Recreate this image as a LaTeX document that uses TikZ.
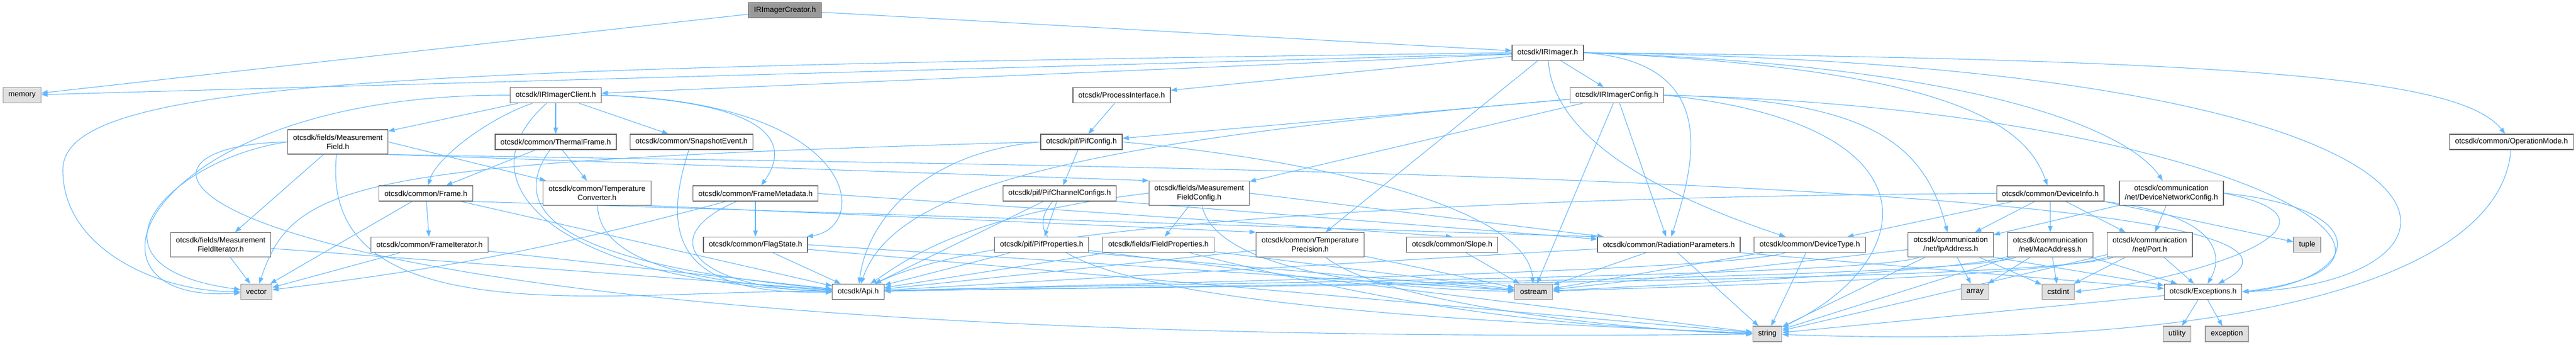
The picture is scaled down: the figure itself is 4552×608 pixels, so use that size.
\documentclass[tikz,border=0pt]{standalone}
\usepackage{fontspec}
\setmainfont{Liberation Sans}
\usepackage{tikz}
\usetikzlibrary{arrows.meta,positioning,backgrounds}
\definecolor{edgeblue}{HTML}{63B8FF}
\definecolor{boxline}{HTML}{666666}
\definecolor{sysline}{HTML}{999999}
\definecolor{sysfill}{HTML}{E0E0E0}
\definecolor{rootfill}{HTML}{999999}
\newcommand{\hdrfont}{\fontsize{13.3}{16}\selectfont}
\tikzstyle{hfile} = [rectangle, draw=boxline, line width=1.3pt, fill=white, text=black, align=center, font=\hdrfont, inner xsep=9.5pt, inner ysep=2pt, minimum height=27pt]
\tikzstyle{hfiletwo} = [hfile, minimum height=43pt]
\tikzstyle{sfile} = [hfile, draw=sysline, fill=sysfill]
\tikzstyle{rfile} = [hfile, draw=boxline, fill=rootfill]
\tikzstyle{iedge} = [draw=edgeblue, line width=1.1pt, ->, >={Triangle[length=11pt,width=8pt]}]

\begin{document}
\begin{tikzpicture}[x=1pt, y=1pt]
\useasboundingbox (0,0) rectangle (4552,-608);

% headers =============================

% top
\node[rfile] (creator) at (1387,-18) {IRImagerCreator.h};
\node[hfile] (irimager) at (2735,-93) {otcsdk/IRImager.h};

% second row
\node[sfile] (memory) at (39,-168) {memory};
\node[hfile] (client) at (982,-168) {otcsdk/IRImagerClient.h};
\node[hfile] (procif) at (1982,-168) {otcsdk/ProcessInterface.h};
\node[hfile] (imgcfg) at (2857,-168) {otcsdk/IRImagerConfig.h};

% third row
\node[hfiletwo] (mfield) at (597,-250.5) {otcsdk/fields/Measurement\\Field.h};
\node[hfile] (thermal) at (982,-250.5) {otcsdk/common/ThermalFrame.h};
\node[hfile] (snapshot) at (1222,-250.5) {otcsdk/common/SnapshotEvent.h};
\node[hfile] (pifcfg) at (1911,-250.5) {otcsdk/pif/PifConfig.h};
\node[hfile] (opmode) at (4438,-250.5) {otcsdk/common/OperationMode.h};

% fourth row
\node[hfile] (frame) at (752.5,-341.5) {otcsdk/common/Frame.h};
\node[hfiletwo] (tconv) at (1055,-341) {otcsdk/common/Temperature\\Converter.h};
\node[hfile] (fmeta) at (1335,-341.5) {otcsdk/common/FrameMetadata.h};
\node[hfile] (pifchan) at (1872.5,-341.5) {otcsdk/pif/PifChannelConfigs.h};
\node[hfiletwo] (mfcfg) at (2119,-341) {otcsdk/fields/Measurement\\FieldConfig.h};
\node[hfile] (devinfo) at (3623,-341.5) {otcsdk/common/DeviceInfo.h};
\node[hfiletwo] (netcfg) at (3837,-341) {otcsdk/communication\\/net/DeviceNetworkConfig.h};

% fifth row
\node[hfiletwo] (mfiter) at (390,-432) {otcsdk/fields/Measurement\\FieldIterator.h};
\node[hfile] (frameit) at (759,-432) {otcsdk/common/FrameIterator.h};
\node[hfile] (flag) at (1335,-432) {otcsdk/common/FlagState.h};
\node[hfile] (pifprop) at (1840.7,-432) {otcsdk/pif/PifProperties.h};
\node[hfile] (fieldprop) at (2047,-432) {otcsdk/fields/FieldProperties.h};
\node[hfiletwo] (tprec) at (2315,-432) {otcsdk/common/Temperature\\Precision.h};
\node[hfile] (slope) at (2566,-432) {otcsdk/common/Slope.h};
\node[hfile] (radpar) at (2949,-432) {otcsdk/common/RadiationParameters.h};
\node[hfile] (devtype) at (3198,-432) {otcsdk/common/DeviceType.h};
\node[hfiletwo] (ipaddr) at (3447,-432) {otcsdk/communication\\/net/IpAddress.h};
\node[hfiletwo, right=24pt of ipaddr] (macaddr) {otcsdk/communication\\/net/MacAddress.h};
\node[hfiletwo, right=24pt of macaddr] (port) {otcsdk/communication\\/net/Port.h};
\node[sfile] (tuple) at (4077,-432) {tuple};

% sixth row
\node[sfile] (vector) at (453,-515) {vector};
\node[hfile] (api) at (1516.5,-515) {otcsdk/Api.h};
\node[sfile] (ostream) at (2710,-515) {ostream};
\node[sfile] (array) at (3490,-515) {array};
\node[sfile] (cstdint) at (3637,-515) {cstdint};
\node[hfile] (excep) at (3893,-515) {otcsdk/Exceptions.h};

% bottom
\node[sfile] (string) at (3123,-589.5) {string};
\node[sfile] (utility) at (3847,-589.5) {utility};
\node[sfile, right=24pt of utility] (exception) {exception};

\coordinate (vecbend) at (111,-300);

%edges
\begin{scope}[on background layer]
\path[iedge] (creator) -- (memory);
\path[iedge] (creator) -- (irimager);

\path[iedge] (irimager) -- (memory);
\path[iedge] (irimager.west) .. controls (700,-120) and (111,-140) .. (vecbend) .. controls (111,-440) and (280,-515) .. (vector.west);
\path[iedge] (irimager) -- (client);
\path[iedge] (irimager) -- (procif);
\path[iedge] (irimager) -- (imgcfg);
\path[iedge] (irimager) -- (tprec);
\path[iedge] (irimager) .. controls (2745,-250) and (2950,-350) .. (devtype);
\path[iedge] (irimager.east) .. controls (3050,-110) and (2990,-300) .. (radpar);
\path[iedge] (irimager.east) .. controls (3450,-120) and (3580,-220) .. (devinfo);
\path[iedge] (irimager.east) .. controls (3500,-115) and (3760,-230) .. (netcfg);
\path[iedge] (irimager.east) .. controls (4000,-105) and (4350,-140) .. (opmode);
\path[iedge] (irimager.east) .. controls (4480,-115) and (4420,-500) .. (excep.east);

\path[iedge] (client) -- (mfield);
\path[iedge] (client) -- (thermal);
\path[iedge] (client) -- (snapshot);
\path[iedge] (client) .. controls (860,-210) and (770,-280) .. (frame);
\path[iedge] (client.east) .. controls (1360,-180) and (1400,-250) .. (fmeta);
\path[iedge] (client.east) .. controls (1520,-180) and (1540,-400) .. (flag);
\path[iedge] (client.west) .. controls (250,-165) and (100,-540) .. (vector);
\path[iedge] (client) .. controls (800,-330) and (1000,-500) .. (api);

\path[iedge] (mfield) -- (mfiter);
\path[iedge] (mfield.west) .. controls (300,-280) and (120,-470) .. (vector);
\path[iedge] (mfield) .. controls (560,-600) and (1100,-510) .. (api);
\path[iedge] (mfield.west) .. controls (100,-258) and (300,-620) .. (string);
\path[iedge] (mfield.south east) -- (mfcfg.north west);
\path[iedge] (mfield.east) -- (tconv);
\path[iedge] (mfield.south east) .. controls (1500,-290) and (4300,-300) .. (excep);

\path[iedge] (mfiter) -- (vector);
\path[iedge] (mfiter) -- (api);

\path[iedge] (frame) -- (frameit);
\path[iedge] (frame) -- (vector);
\path[iedge] (frame) -- (api);
\path[iedge] (frame.south east) -- (radpar.north west);

\path[iedge] (frameit) -- (vector);
\path[iedge] (frameit) -- (api);

\path[iedge] (thermal) -- (frame);
\path[iedge] (thermal) -- (tconv);
\path[iedge] (thermal) .. controls (860,-420) and (1150,-480) .. (api);

\path[iedge] (snapshot) .. controls (1160,-440) and (1220,-520) .. (api);

\path[iedge] (tconv) .. controls (1060,-470) and (1250,-500) .. (api);
\path[iedge] (tconv.south east) -- (tprec.north west);

\path[iedge] (fmeta) to[bend left=4] (vector);
\path[iedge] (fmeta) .. controls (1150,-420) and (1230,-510) .. (api);
\path[iedge] (fmeta) -- (flag);
\path[iedge] (fmeta.east) -- (slope.north);

\path[iedge] (flag) -- (api);
\path[iedge] (flag.east) -- (ostream);
\path[iedge] (flag) -- (string);

\path[iedge] (procif) -- (pifcfg);

\path[iedge] (pifcfg) -- (pifchan);
\path[iedge] (pifcfg.west) .. controls (620,-285) and (520,-320) .. (vector);
\path[iedge] (pifcfg.west) .. controls (1620,-270) and (1530,-400) .. (api);
\path[iedge] (pifcfg.east) .. controls (2400,-290) and (2700,-380) .. (ostream);

\path[iedge] (pifchan) -- (pifprop);
\path[iedge] (pifchan) -- (api);
\path[iedge] (pifchan) .. controls (1700,-540) and (2700,-570) .. (string);
\path[iedge] (pifchan.south east) -- (radpar);

\path[iedge] (pifprop) -- (api);
\path[iedge] (pifprop.south east) -- (ostream);
\path[iedge] (pifprop) -- (string);

\path[iedge] (fieldprop) -- (api);
\path[iedge] (fieldprop) -- (ostream);
\path[iedge] (fieldprop) to[bend right=6] (string);

\path[iedge] (mfcfg) -- (fieldprop);
\path[iedge] (mfcfg.west) .. controls (1700,-380) and (1600,-460) .. (api);
\path[iedge] (mfcfg) .. controls (2150,-480) and (2450,-510) .. (ostream);
\path[iedge] (mfcfg.east) -- (radpar);

\path[iedge] (tprec) -- (api);
\path[iedge] (tprec) -- (ostream);
\path[iedge] (tprec) .. controls (2450,-540) and (2900,-585) .. (string);

\path[iedge] (slope) -- (ostream);

\path[iedge] (radpar) -- (ostream);
\path[iedge] (radpar) -- (api);
\path[iedge] (radpar) -- (string);
\path[iedge] (radpar.south east) -- (excep);

\path[iedge] (devtype) -- (string);
\path[iedge] (devtype) -- (ostream);
\path[iedge] (devtype) .. controls (3050,-480) and (2000,-500) .. (api);

\path[iedge] (ipaddr) -- (array);
\path[iedge] (ipaddr) -- (cstdint);
\path[iedge] (ipaddr) -- (string);
\path[iedge] (ipaddr) -- (ostream);
\path[iedge] (ipaddr.south east) -- (excep);
\path[iedge] (ipaddr) .. controls (3300,-490) and (2000,-500) .. (api);

\path[iedge] (macaddr) -- (array);
\path[iedge] (macaddr) -- (cstdint);
\path[iedge] (macaddr) -- (string);
\path[iedge] (macaddr) -- (excep);
\path[iedge] (macaddr) .. controls (3450,-480) and (3000,-500) .. (ostream);
\path[iedge] (macaddr) .. controls (3450,-495) and (2000,-505) .. (api);

\path[iedge] (port) -- (cstdint);
\path[iedge] (port) -- (excep);
\path[iedge] (port) -- (string);
\path[iedge] (port) .. controls (3600,-490) and (3000,-505) .. (ostream);
\path[iedge] (port) .. controls (3600,-500) and (2000,-505) .. (api);

\path[iedge] (devinfo) -- (devtype);
\path[iedge] (devinfo) -- (ipaddr);
\path[iedge] (devinfo) -- (macaddr);
\path[iedge] (devinfo) -- (port);
\path[iedge] (devinfo.south east) -- (tuple);
\path[iedge] (devinfo.south east) .. controls (3920,-380) and (3930,-450) .. (excep);
\path[iedge] (devinfo.west) .. controls (2800,-345) and (1800,-380) .. (api);

\path[iedge] (netcfg) -- (ipaddr);
\path[iedge] (netcfg) -- (port);
\path[iedge] (netcfg.east) .. controls (4220,-370) and (4160,-500) .. (excep.east);
\path[iedge] (netcfg.east) .. controls (4180,-390) and (3900,-490) .. (cstdint.east);

\path[iedge] (opmode) .. controls (4420,-480) and (4000,-620) .. (string);

\path[iedge] (excep) -- (utility);
\path[iedge] (excep) -- (exception);
\path[iedge] (excep) -- (string);

\path[iedge] (imgcfg) -- (mfcfg);
\path[iedge] (imgcfg) -- (pifcfg);
\path[iedge] (imgcfg) .. controls (1900,-250) and (1580,-330) .. (api);
\path[iedge] (imgcfg) -- (radpar);
\path[iedge] (imgcfg) -- (ostream);
\path[iedge] (imgcfg.east) .. controls (3300,-175) and (3400,-250) .. (ipaddr);
\path[iedge] (imgcfg.east) .. controls (3900,-190) and (4400,-460) .. (excep.east);
\path[iedge] (imgcfg.east) .. controls (3450,-220) and (3380,-470) .. (string);
\end{scope}

\end{tikzpicture}
\end{document}
